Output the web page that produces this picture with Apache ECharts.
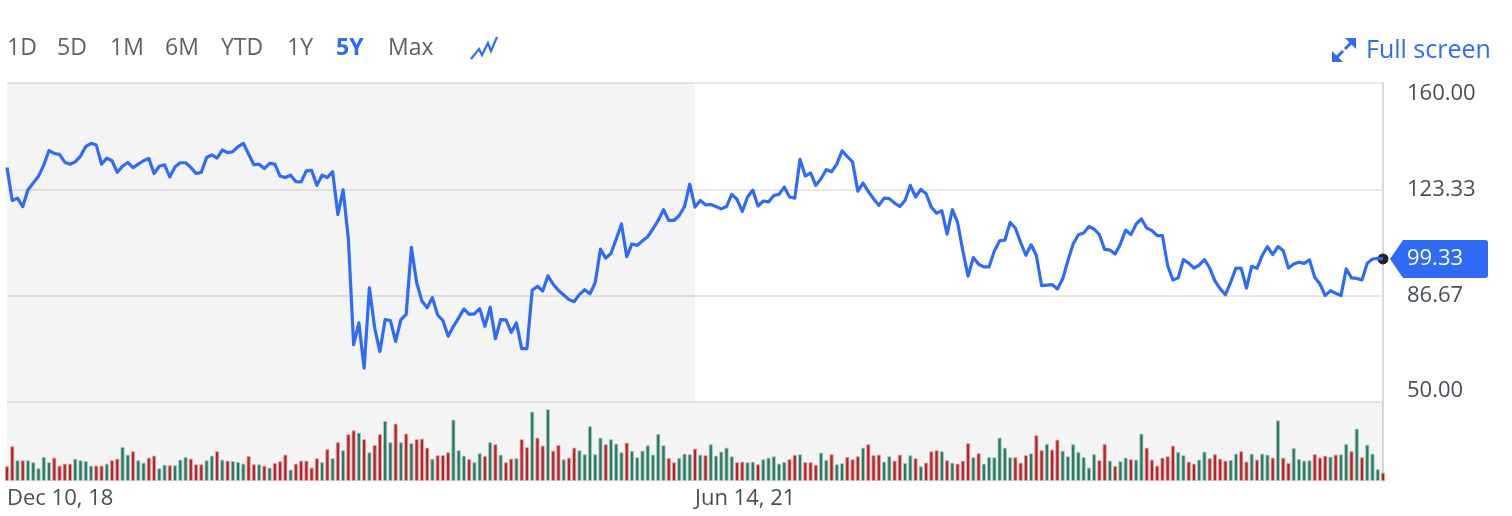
<!DOCTYPE html>
<html><head><meta charset="utf-8">
<script src="https://cdn.jsdelivr.net/npm/echarts@6/dist/echarts.min.js"></script>
<style>html,body{margin:0;padding:0;background:#fff}#c{width:1512px;height:516px}</style>
</head><body><div id="c"></div>
<script>
// ---- data ----
const priceValues = [
130.9,119.5,120.3,117.4,123.2,125.5,127.9,131.7,136.7,135.7,
135.4,132.7,132.0,132.8,134.8,138.1,139.2,138.6,132.0,134.1,
133.2,129.2,131.3,132.6,130.8,132.0,133.2,134.0,128.8,131.3,
131.8,127.6,131.1,132.5,132.5,130.9,128.8,129.2,134.3,135.2,
134.1,136.9,136.0,136.3,138.1,139.2,135.5,131.8,132.0,130.5,
132.3,132.0,127.9,127.4,128.2,126.0,125.9,129.7,129.9,124.7,
128.2,127.4,129.4,114.6,123.2,
106.2,69.8,77.3,61.7,89.4,75.6,67.4,78.4,78.1,70.9,
78.4,80.2,103.3,91.2,84.8,82.5,86.0,80.0,78.1,72.7,
76.1,79.0,82.1,80.2,80.4,82.2,76.1,82.7,71.8,78.4,
78.3,74.0,77.3,68.4,68.4,88.5,89.9,88.3,93.5,90.6,
88.5,86.9,85.3,84.6,87.1,88.7,87.3,91.2,102.7,99.6,
101.2,106.2,111.4,100.1,104.5,104.0,105.6,107.0,109.7,112.6,
116.3,112.6,112.6,114.3,117.4,125.1,117.2,119.5,
118.0,118.1,117.4,116.6,117.4,121.6,119.9,115.7,120.7,123.0,
117.6,119.3,119.0,121.2,121.6,124.1,120.7,120.3,133.7,127.9,
129.0,124.7,127.0,130.2,129.4,132.0,136.6,134.6,132.8,122.7,
125.5,122.6,120.1,117.8,120.3,120.1,118.6,117.4,119.5,124.7,
120.7,123.3,121.8,117.2,115.1,116.0,107.9,116.3,111.9,102.1,
93.4,99.8,97.5,96.6,96.6,102.1,105.6,105.8,111.9,110.0,
105.0,100.6,
104.2,100.5,90.1,90.3,90.5,89.0,92.4,98.7,104.5,107.7,
108.3,110.5,109.6,107.7,102.6,102.4,101.0,104.5,109.3,107.7,
111.4,113.1,110.0,109.1,107.4,107.4,97.0,92.1,92.8,99.1,
97.9,96.2,97.2,99.1,96.2,91.8,89.0,87.0,91.3,96.2,
96.1,89.3,96.8,96.1,100.5,103.6,100.8,103.6,102.2,96.2,
97.6,98.2,97.8,99.0,93.0,90.7,86.7,88.4,87.5,86.7,
95.9,92.8,92.6,92.1,97.8,99.3,99.5,99.33];

const volumeValues = [
14.7,34.7,20.7,20.7,20.7,18.7,12.7,24,18.7,23.3,
15.3,17.3,17.3,22.3,20.7,20,15.3,15.3,15.3,17.3,
20.7,22.3,34,26.3,29.7,20.7,18.3,23.3,25.3,12.7,
16.3,15.7,15.7,21.3,24,22.3,16.7,16.7,20.7,25.3,
29.7,21.3,20.3,20,19,17.3,25,16.7,16.7,15.3,
13.3,18,19.7,26.3,11.3,17.3,20.3,20.3,13.3,22.7,
18.7,31.7,22.7,38.7,30.7,46.7,50.7,48.3,41.7,28.7,
36,46.7,60,38.7,
57.3,38.7,47.3,38,41.7,42.3,33.3,22.3,25.7,25.7,
28.7,61.3,30.7,25.3,22,18.7,27.7,25,38.7,36.7,
26.3,18.7,22.3,22.7,41.7,33.7,69.3,43.3,35.3,71.7,
30.3,36,21.7,23.3,33.3,30.7,26.7,54.7,26.7,43.3,
36.7,41.7,37.3,28.7,38.3,30,23.7,30.3,35.7,26.3,
47,35.7,23,18.7,23,27.3,26.7,32.3,26.3,25.7,
36.7,25.3,29.3,33.3,24.7,18.7,19.3,18.7,19.3,16.7,
21.7,23.3,24.7,17.3,
19,21.7,26,26.7,18.7,18.7,16,28.3,21,26.7,
16.7,17.7,24,21.7,24.7,33.3,36.7,25.7,26.3,19.3,
24.7,20.3,26.3,18,25.7,22.7,14.7,18.3,29.7,30.7,
29.7,20.7,18.3,17.3,20.3,37.7,23.7,27.7,17.3,24,
23.7,43.3,33.3,23.7,23.7,18.3,25.7,27.7,45.7,30.7,
37,31.3,41.3,30.3,24.7,36.7,29,24,13.3,26.7,
20.7,37,20.3,15,19.7,23.3,21.7,21.3,47.3,33.3,
21.3,15.3,
23.3,24.7,35.3,29,25.7,19.3,17.3,21.3,29.3,22.7,
26.7,22.3,20.3,21,27.3,29.7,19.3,27.3,21.3,27.3,
26.3,23.3,60.7,23.3,18,33,22,20.3,20.7,26.7,
23.3,25.3,24.3,26.3,26.7,37,29.7,52.3,23.7,36.3,
27.3,11.7,8.3];

// 1 = up week (green bar), 0 = down week (red bar)
const volumeUp = [
0,0,1,0,1,1,1,1,1,0, 0,0,0,1,1,1,1,0,0,1, 0,0,1,1,0,1,1,0,0,1, 1,0,1,1,1,0,0,0,1,1,
0,1,0,1,1,1,0,0,1,0, 1,0,0,0,1,0,0,0,0,0, 1,0,1,0,1,0,0,1,0,1, 0,0,1,1,
0,1,0,1,0,0,0,1,0,0, 0,1,1,1,0,1,1,0,1,0, 1,0,0,1,0,0,1,0,0,1, 0,0,1,0,0,1,1,1,1,1,
0,1,1,1,0,1,1,1,1,1, 1,1,0,0,1,1,1,0,1,0, 1,1,1,1,1,0,0,1,1,0, 1,1,1,1,
1,0,0,1,0,0,0,1,1,0, 1,1,0,0,0,1,0,0,0,1, 1,0,0,1,1,0,1,0,0,0, 1,0,1,0,0,0,1,0,1,1,
1,1,1,1,0,0,0,1,0,0, 1,0,0,1,1,1,1,1,1,1, 0,0,1,0,1,1,0,1,1,0, 0,0,
0,0,0,1,1,0,0,1,1,0, 0,0,0,1,1,0,0,1,0,1, 1,0,1,0,0,1,1,1,1,0, 0,0,1,0,1,1,0,1,0,1,
1,1,0];

const startDate = '2018-12-10';           // first weekly point
const xTickLabels = ['Dec 10, 18', 'Jun 14, 21'];
const shadeRange = ['Dec 10, 18', 'Jun 14, 21'];
const yTickMin = 50, yTickMax = 160, yTickStep = 110 / 3;
const periodButtons = ['1D', '5D', '1M', '6M', 'YTD', '1Y', '5Y', 'Max'];
const activePeriod = '5Y';
const fullScreenText = 'Full screen';
const lastPrice = 99.33;

// ---- weekly date categories ----
const MONTHS = ['Jan','Feb','Mar','Apr','May','Jun','Jul','Aug','Sep','Oct','Nov','Dec'];
const categories = [];
{
  const t0 = Date.parse(startDate + 'T00:00:00Z');
  for (let i = 0; i < priceValues.length; i++) {
    const d = new Date(t0 + i * 7 * 86400000);
    categories.push(MONTHS[d.getUTCMonth()] + ' ' + d.getUTCDate() + ', ' + String(d.getUTCFullYear()).slice(2));
  }
}

const BLUE = '#2f6bf5';
const FONT = "'Open Sans', 'Noto Sans', sans-serif";
const AXIS_TXT = '#464e56';

const chart = echarts.init(document.getElementById('c'), null, { renderer: 'canvas' });

// header graphics
const btnX = [7, 57, 110, 165, 221, 287, 336, 388];
const graphics = periodButtons.map((p, i) => ({
  type: 'text', x: btnX[i], y: 48,
  style: { text: p, font: (p === activePeriod ? 'bold ' : '') + '23px ' + FONT,
           fill: p === activePeriod ? BLUE : '#5b636a', verticalAlign: 'middle' }
}));
graphics.push({
  type: 'polyline', silent: true,
  shape: { points: [[471,59],[479,49],[482,55],[488,43],[491,51],[497,37]] },
  style: { stroke: BLUE, lineWidth: 2.2, fill: null, lineJoin: 'miter' }
});
graphics.push({ type: 'polygon', shape: { points: [[1345,38],[1356,38],[1356,49]] }, style: { fill: BLUE } });
graphics.push({ type: 'line', shape: { x1: 1352, y1: 42, x2: 1345, y2: 49 }, style: { stroke: BLUE, lineWidth: 3 } });
graphics.push({ type: 'polygon', shape: { points: [[1332,51],[1332,62],[1343,62]] }, style: { fill: BLUE } });
graphics.push({ type: 'line', shape: { x1: 1336, y1: 58, x2: 1343, y2: 51 }, style: { stroke: BLUE, lineWidth: 3 } });
graphics.push({
  type: 'text', x: 1366, y: 51,
  style: { text: fullScreenText, font: '500 25px ' + FONT, fill: BLUE, verticalAlign: 'middle' }
});

const lastCat = categories[categories.length - 1];

const option = {
  animation: false,
  backgroundColor: '#ffffff',
  graphic: graphics,
  grid: [
    { left: 7, right: 129, top: 83, height: 319, outerBoundsMode: 'none' },
    { left: 7, right: 129, top: 402, height: 79, outerBoundsMode: 'none' }
  ],
  xAxis: [
    { type: 'category', gridIndex: 0, data: categories, boundaryGap: false,
      axisLine: { show: false }, axisTick: { show: false }, axisLabel: { show: false }, splitLine: { show: false } },
    { type: 'category', gridIndex: 1, data: categories, boundaryGap: false,
      axisLine: { show: false }, axisTick: { show: false }, splitLine: { show: false },
      axisLabel: { show: true, interval: (i, v) => xTickLabels.includes(v), align: 'left',
                   color: AXIS_TXT, fontSize: 22, fontFamily: FONT, margin: 7,
                   formatter: v => xTickLabels.includes(v) ? v : '' } }
  ],
  yAxis: [
    { type: 'value', gridIndex: 0, position: 'right', min: yTickMin, max: yTickMax, interval: yTickStep,
      axisLine: { show: true, lineStyle: { color: '#d9d9df', width: 2 } },
      axisTick: { show: false },
      splitLine: { show: true, lineStyle: { color: '#e9e9e9', width: 2 } },
      axisLabel: { color: AXIS_TXT, fontSize: 22, fontFamily: FONT, margin: 24,
                   formatter: v => (Math.abs(v - yTickMax) < 0.01 ? '{mx|' + v.toFixed(2) + '}' : v.toFixed(2)),
                   rich: { mx: { padding: [22, 0, 0, 0], fontSize: 22, fontFamily: FONT, color: AXIS_TXT } },
                   verticalAlignMinLabel: 'bottom' } },
    { type: 'value', gridIndex: 1, position: 'right', min: 0, max: 79,
      axisLine: { show: true, lineStyle: { color: '#d9d9df', width: 2 } },
      axisTick: { show: false }, axisLabel: { show: false }, splitLine: { show: false } }
  ],
  series: [
    {
      type: 'line', xAxisIndex: 0, yAxisIndex: 0, data: priceValues,
      showSymbol: false, symbol: 'none', z: 5,
      lineStyle: { color: BLUE, width: 3.2, join: 'round' },
      markArea: { silent: true, itemStyle: { color: 'rgba(0,0,0,0.045)' },
                  data: [[{ xAxis: shadeRange[0] }, { xAxis: shadeRange[1] }]] },
      markPoint: {
        silent: true,
        data: [
          { coord: [lastCat, lastPrice],
            symbol: 'path://M0,19L13,0L95,0Q98,0,98,3L98,35Q98,38,95,38L13,38Z',
            symbolSize: [98, 38], symbolOffset: [56, 0],
            itemStyle: { color: BLUE },
            label: { show: true, position: 'inside', formatter: lastPrice.toFixed(2), color: '#fff',
                     fontSize: 22, fontFamily: FONT, offset: [-4, 0] } },
          { coord: [lastCat, lastPrice], symbol: 'circle', symbolSize: 11,
            itemStyle: { color: '#222' }, label: { show: false } }
        ]
      }
    },
    {
      type: 'bar', xAxisIndex: 1, yAxisIndex: 1, barWidth: 4,
      data: volumeValues.map((v, i) => ({
        value: v,
        itemStyle: volumeUp[i]
          ? { color: '#2e7762', borderColor: '#a9d0c4', borderWidth: 0.8 }
          : { color: '#b0272b', borderColor: '#e6a9aa', borderWidth: 0.8 }
      })),
      markArea: { silent: true, itemStyle: { color: 'rgba(0,0,0,0.045)' },
                  data: [[{ xAxis: shadeRange[0] }, { xAxis: shadeRange[1] }]] }
    }
  ]
};
chart.setOption(option);
</script>
</body></html>
